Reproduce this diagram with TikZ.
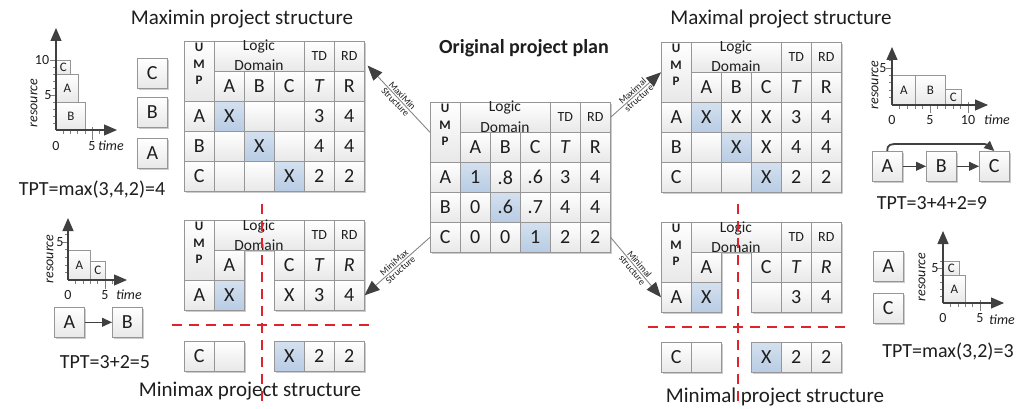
\documentclass[tikz,border=0pt]{standalone}
\usepackage{fontspec}
\setmainfont{Carlito}
\usetikzlibrary{arrows.meta,shadows,calc}
\definecolor{cellline}{RGB}{150,150,150}
\definecolor{cellblue}{RGB}{184,204,228}
\definecolor{axisgray}{RGB}{64,64,64}
\definecolor{sepred}{RGB}{222,35,45}
\definecolor{linkgray}{RGB}{135,135,135}
\definecolor{ink}{RGB}{30,30,30}
\newcommand\fs[1]{\fontsize{#1}{#1}\selectfont}
\newcommand\MatHead{%
  \node[cell, minimum height=60pt] (UMP) at (0,0) {};
  \node[cell, minimum width=90pt] (LD) at (30,0) {};
  \node[cell, font=\fs{14}] (TD) at (120,0) {TD};
  \node[cell, font=\fs{14}] (RD) at (150,0) {RD};
}
\newcommand\MatLabels{%
  \node[umpt] (UMPt) at (15,23) {U\\M\\P};
  \node[ldt] (LD1) at (75,10) {Logic};
  \node[ldt] (LD2) at (75,30) {Domain};
}
\tikzset{
  cell/.style={draw=cellline, line width=0.6pt, top color=white, bottom color=black!9,
    minimum width=30pt, minimum height=30pt, inner sep=0pt, anchor=north west,
    text=ink, font=\fs{20},
    general shadow={fill=black!20, shadow xshift=1.3pt, shadow yshift=-1.3pt}},
  hl/.style={top color=cellblue!60, bottom color=cellblue},
  pl/.style={},
  umpt/.style={font=\fontsize{13}{16.5}\selectfont\bfseries, align=center, inner sep=0pt, text=ink},
  ldt/.style={font=\fs{15.5}, anchor=base, inner sep=0pt, text=ink},
  bar/.style={draw=cellline, line width=0.6pt, top color=white, bottom color=black!9,
    inner sep=0pt, anchor=north west, text=ink, font=\fs{13}},
  axis/.style={draw=axisgray, line width=1.1pt, -{Triangle[length=13pt,width=11pt]}},
  tick/.style={draw=gray, line width=0.6pt},
  albl/.style={font=\fs{14}, text=ink, inner sep=0pt},
  tlbl/.style={font=\fs{14}\itshape, text=ink, inner sep=0pt},
  link/.style={draw=linkgray, line width=0.9pt, -{Triangle[length=15pt,width=12pt,color=axisgray]}},
  lnk/.style={font=\fs{9.5}, text=ink, inner sep=1.2pt},
  act/.style={draw=axisgray, line width=1pt, -{Triangle[length=10pt,width=9pt]}},
  title/.style={font=\fs{21}, text=ink, inner sep=0pt},
  tpt/.style={font=\fs{20}, text=ink, inner sep=0pt},
  sep/.style={draw=sepred, line width=2pt, dash pattern=on 10pt off 7pt},
}
\begin{document}
\begin{tikzpicture}[x=1pt,y=-1pt]
\fill[white] (0,0) rectangle (1020,409);
\useasboundingbox (0,0) rectangle (1020,409);

% ---------- titles ----------
\node[title] (tMaximin) at (242,19) {Maximin project structure};
\node[title] (tMaximal) at (781,19) {Maximal project structure};
\node[title] (tMinimax) at (250,391) {Minimax project structure};
\node[title] (tMinimal) at (775,397) {Minimal project structure};
\node[font=\fs{20}\bfseries, text=ink, inner sep=0pt] (tOrig) at (524,48) {Original project plan};

% ---------- Maximin matrix ----------
\begin{scope}[shift={(184,41)}, name prefix=mm-]
\MatHead
\foreach \c/\r/\t/\s in {1/1/A/pl,2/1/B/pl,3/1/C/pl,4/1/{\textit{T}}/pl,5/1/R/pl,
  0/2/A/pl,1/2/X/hl,2/2/{}/pl,3/2/{}/pl,4/2/3/pl,5/2/4/pl,
  0/3/B/pl,1/3/{}/pl,2/3/X/hl,3/3/{}/pl,4/3/4/pl,5/3/4/pl,
  0/4/C/pl,1/4/{}/pl,2/4/{}/pl,3/4/X/hl,4/4/2/pl,5/4/2/pl}
  \node[cell,\s] (c\c\r) at (30*\c,30*\r) {\t};
\MatLabels
\end{scope}

% ---------- Original matrix ----------
\begin{scope}[shift={(430,102)}, name prefix=op-]
\MatHead
\foreach \c/\r/\t/\s in {1/1/A/pl,2/1/B/pl,3/1/C/pl,4/1/{\textit{T}}/pl,5/1/R/pl,
  0/2/A/pl,1/2/1/hl,2/2/.8/pl,3/2/.6/pl,4/2/3/pl,5/2/4/pl,
  0/3/B/pl,1/3/0/pl,2/3/.6/hl,3/3/.7/pl,4/3/4/pl,5/3/4/pl,
  0/4/C/pl,1/4/0/pl,2/4/0/pl,3/4/1/hl,4/4/2/pl,5/4/2/pl}
  \node[cell,\s] (c\c\r) at (30*\c,30*\r) {\t};
\MatLabels
\end{scope}

% ---------- Maximal matrix ----------
\begin{scope}[shift={(661,42)}, name prefix=ml-]
\MatHead
\foreach \c/\r/\t/\s in {1/1/A/pl,2/1/B/pl,3/1/C/pl,4/1/{\textit{T}}/pl,5/1/R/pl,
  0/2/A/pl,1/2/X/hl,2/2/X/pl,3/2/X/pl,4/2/3/pl,5/2/4/pl,
  0/3/B/pl,1/3/{}/pl,2/3/X/hl,3/3/X/pl,4/3/4/pl,5/3/4/pl,
  0/4/C/pl,1/4/{}/pl,2/4/{}/pl,3/4/X/hl,4/4/2/pl,5/4/2/pl}
  \node[cell,\s] (c\c\r) at (30*\c,30*\r) {\t};
\MatLabels
\end{scope}

% ---------- Minimax matrix ----------
\begin{scope}[shift={(184,220)}, name prefix=mx-]
\MatHead
\foreach \c/\r/\t/\s in {1/1/A/pl,3/1/C/pl,4/1/{\textit{T}}/pl,5/1/{\textit{R}}/pl,
  0/2/A/pl,1/2/X/hl,3/2/X/pl,4/2/3/pl,5/2/4/pl}
  \node[cell,\s] (c\c\r) at (30*\c,30*\r) {\t};
\foreach \c/\t/\s in {0/C/pl,1/{}/pl,3/X/hl,4/2/pl,5/2/pl}
  \node[cell,\s] (b\c) at (30*\c,121) {\t};
\MatLabels
\end{scope}

% ---------- Minimal matrix ----------
\begin{scope}[shift={(661,222)}, name prefix=mn-]
\MatHead
\foreach \c/\r/\t/\s in {1/1/A/pl,3/1/C/pl,4/1/{\textit{T}}/pl,5/1/{\textit{R}}/pl,
  0/2/A/pl,1/2/X/hl,3/2/{}/pl,4/2/3/pl,5/2/4/pl}
  \node[cell,\s] (c\c\r) at (30*\c,30*\r) {\t};
\foreach \c/\t/\s in {0/C/pl,1/{}/pl,3/X/hl,4/2/pl,5/2/pl}
  \node[cell,\s] (b\c) at (30*\c,120) {\t};
\MatLabels
\end{scope}

% ---------- links ----------
\draw[link] (op-UMP.west) -- ($(mm-RD.south east)+(3,-6)$)
  node[midway, sloped, above, lnk] (lk1a) {MaxiMin}
  node[midway, sloped, below, lnk] (lk1b) {Structure};
\draw[link] (op-RD.east) -- (ml-UMP.west)
  node[midway, sloped, above, lnk] (lk2a) {Maximal}
  node[midway, sloped, below, lnk] (lk2b) {structure};
\draw[link] (op-c04.west) -- (mx-c52.east)
  node[midway, sloped, above, lnk] (lk3a) {MiniMax}
  node[midway, sloped, below, lnk] (lk3b) {Structure};
\draw[link] (op-c54.east) -- (mn-c02.west)
  node[midway, sloped, above, lnk] (lk4a) {Minimal}
  node[midway, sloped, below, lnk] (lk4b) {structure};

% ---------- top-left chart ----------
\foreach \i in {1,...,10} \draw[tick] (56,130-7*\i) -- ++(-3,0);
\draw[tick] (56,95) -- ++(-6,0);
\draw[tick] (56,60) -- ++(-6,0);
\foreach \i in {1,...,7} \draw[tick] (56+7.2*\i,130) -- ++(0,4);
\draw[tick] (92,127) -- (92,140);
\node[bar, minimum width=29pt, minimum height=28pt] (tlB) at (56,102) {B};
\node[bar, minimum width=22pt, minimum height=28pt] (tlA) at (56,74) {A};
\node[bar, minimum width=14pt, minimum height=14pt] (tlC) at (56,60) {C};
\coordinate (tlO) at (56,130);
\draw[axis] (tlO) -- (56,28);
\draw[axis] (tlO) -- (117,130);
\node[albl] (tl10) at (42,60) {10};
\node[albl] (tl5) at (48,95) {5};
\node[albl] (tl0) at (56,146) {0};
\node[albl] (tlx5) at (92,146) {5};
\node[tlbl, anchor=west] (tltime) at (98,146) {time};
\node[tlbl, rotate=90] (tlres) at (34,103) {resource};
\node[cell] (tlbC) at (137,58) {C};
\node[cell] (tlbB) at (137,97) {B};
\node[cell] (tlbA) at (137,138) {A};
\node[tpt] (tlTPT) at (92,190) {TPT=max(3,4,2)=4};

% ---------- bottom-left chart ----------
\foreach \i in {1,...,6} \draw[tick] (68,280-7.6*\i) -- ++(-3,0);
\draw[tick] (68,242) -- ++(-6,0);
\foreach \i in {1,...,6} \draw[tick] (68+7.4*\i,280) -- ++(0,4);
\draw[tick] (105,277) -- (105,289);
\node[bar, minimum width=22pt, minimum height=30pt] (blbA) at (68,250) {A};
\node[bar, minimum width=15pt, minimum height=19pt] (blbC) at (90,261) {C};
\coordinate (blO) at (68,280);
\draw[axis] (blO) -- (68,218);
\draw[axis] (blO) -- (127,280);
\node[albl] (bl5) at (60,242) {5};
\node[albl] (bl0) at (68,295) {0};
\node[albl] (blx5) at (105,295) {5};
\node[tlbl, anchor=west] (bltime) at (116,295) {time};
\node[tlbl, rotate=90] (blres) at (50,259) {resource};
\node[cell] (blA) at (54,307) {A};
\node[cell] (blB) at (112,307) {B};
\draw[act] (blA.east) -- (blB.west);
\node[tpt] (blTPT) at (105,362) {TPT=3+2=5};

% ---------- top-right chart ----------
\foreach \i in {1,...,6} \draw[tick] (892,105-7.4*\i) -- ++(-3,0);
\draw[tick] (892,68) -- ++(-6,0);
\foreach \i in {1,...,10} \draw[tick] (892+7.6*\i,105) -- ++(0,4);
\draw[tick] (930,102) -- (930,113);
\draw[tick] (968,102) -- (968,113);
\node[bar, minimum width=23pt, minimum height=30pt] (trbA) at (892,75) {A};
\node[bar, minimum width=30pt, minimum height=30pt] (trbB) at (915,75) {B};
\node[bar, minimum width=16pt, minimum height=16pt] (trbC) at (945,89) {C};
\coordinate (trO) at (892,105);
\draw[axis] (trO) -- (892,47);
\draw[axis] (trO) -- (988,105);
\node[albl] (tr5) at (883,68) {5};
\node[albl] (tr0) at (892,120) {0};
\node[albl] (trx5) at (930,120) {5};
\node[albl] (trx10) at (968,120) {10};
\node[tlbl] (trtime) at (997,120) {time};
\node[tlbl, rotate=90] (trres) at (875,85) {resource};
\node[cell] (trA) at (872,151) {A};
\node[cell] (trB) at (926,151) {B};
\node[cell] (trC) at (979,151) {C};
\draw[act] (trA.east) -- (trB.west);
\draw[act] (trB.east) -- (trC.west);
\draw[act, line width=1.8pt] (trA.north) .. controls ($(trA.north)+(0,-7)$) and ($(trA.north)+(3,-7)$) .. ($(trA.north)+(12,-7)$)
  -- ($(trC.north)+(-22,-7)$) .. controls ($(trC.north)+(-8,-7)$) .. (trC.north);
\node[tpt] (trTPT) at (932,203) {TPT=3+4+2=9};

% ---------- bottom-right chart ----------
\foreach \i in {1,...,6} \draw[tick] (943,303-7*\i) -- ++(-3,0);
\draw[tick] (943,268) -- ++(-6,0);
\foreach \i in {1,...,5} \draw[tick] (943+7.4*\i,303) -- ++(0,4);
\draw[tick] (980,300) -- (980,311);
\node[bar, minimum width=22pt, minimum height=28pt] (brbA) at (943,275) {A};
\node[bar, minimum width=16pt, minimum height=14pt] (brbC) at (943,261) {C};
\coordinate (brO) at (943,303);
\draw[axis] (brO) -- (943,231);
\draw[axis] (brO) -- (1004,303);
\node[albl] (br5) at (935,268) {5};
\node[albl] (br0) at (943,318) {0};
\node[albl] (brx5) at (980,318) {5};
\node[tlbl] (brtime) at (1002,320) {time};
\node[tlbl, rotate=90] (brres) at (922,277) {resource};
\node[cell] (brA) at (873,251) {A};
\node[cell] (brC) at (873,293) {C};
\node[tpt] (brTPT) at (948,352) {TPT=max(3,2)=3};

% ---------- red separators ----------
\coordinate (sLt) at (262,204); \coordinate (sLb) at (262,401);
\coordinate (sLl) at (172,325); \coordinate (sLr) at (373,325);
\coordinate (sRt) at (738,204); \coordinate (sRb) at (738,403);
\coordinate (sRl) at (648,327); \coordinate (sRr) at (852,327);
\draw[sep] (sLt) -- (sLb);
\draw[sep] (sLl) -- (sLr);
\draw[sep] (sRt) -- (sRb);
\draw[sep] (sRl) -- (sRr);
\end{tikzpicture}
\end{document}
